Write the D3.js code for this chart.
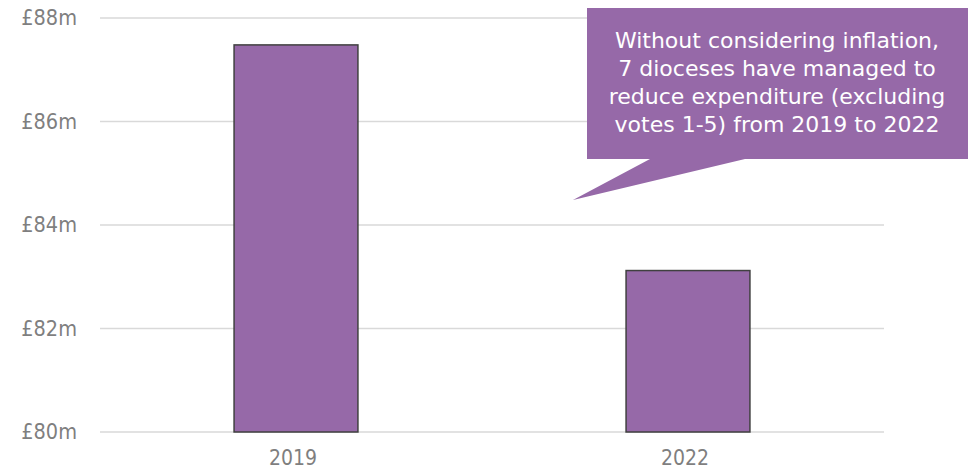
<!DOCTYPE html>
<html>
<head>
<meta charset="utf-8">
<script src="https://cdn.jsdelivr.net/npm/d3@7"></script>
<style>
  body { margin: 0; background: #fff; }
  svg text { font-family: "DejaVu Sans", sans-serif; }
  .axis text { font-family: "Liberation Sans Narrow", "DejaVu Sans Condensed", sans-serif; }
</style>
</head>
<body>
<div id="chart"></div>
<script>
// data
var years = ["2019", "2022"];
var spend = [87.48, 83.12];
var yTicks = [80, 82, 84, 86, 88];
var note = ["Without considering inflation,",
            "7 dioceses have managed to",
            "reduce expenditure (excluding",
            "votes 1-5) from 2019 to 2022"];

var W = 968, H = 474;
var margin = {top: 18, right: 84, bottom: 42, left: 100},
    width = W - margin.left - margin.right,
    height = H - margin.top - margin.bottom;

var svg = d3.select("#chart").append("svg")
    .attr("width", W)
    .attr("height", H);

var g = svg.append("g")
    .attr("transform", "translate(" + margin.left + "," + margin.top + ")");

var x = d3.scaleBand()
    .domain(years)
    .range([0, width])
    .paddingInner(0.684)
    .paddingOuter(0.342);

var y = d3.scaleLinear()
    .domain([80, 88])
    .range([height, 0]);

// gridlines
g.selectAll(".grid")
  .data(yTicks)
  .enter()
  .append("line")
  .attr("x1", 0)
  .attr("x2", width)
  .attr("y1", function(d) { return y(d); })
  .attr("y2", function(d) { return y(d); })
  .attr("stroke", "#d9d9d9")
  .attr("stroke-width", 1.5);

// y axis labels
var yAxis = d3.axisLeft(y)
    .tickValues(yTicks)
    .tickSize(0)
    .tickPadding(23)
    .tickFormat(function(d) { return "£" + d + "m"; });

g.append("g")
  .attr("class", "axis")
  .call(yAxis)
  .call(function(s) { s.select(".domain").remove(); })
  .selectAll("text")
  .attr("fill", "#7f7f7f")
  .style("font-size", "21.5px");

// bars
g.selectAll(".bar")
  .data(spend)
  .enter()
  .append("rect")
  .attr("x", function(d, i) { return x(years[i]); })
  .attr("y", function(d) { return y(d); })
  .attr("width", x.bandwidth())
  .attr("height", function(d) { return height - y(d); })
  .attr("fill", "#9669a8")
  .attr("stroke", "#404040")
  .attr("stroke-width", 1.5);

// x axis labels
var xAxis = d3.axisBottom(x).tickSize(0).tickPadding(18);
g.append("g")
  .attr("class", "axis")
  .attr("transform", "translate(0," + height + ")")
  .call(xAxis)
  .call(function(s) { s.select(".domain").remove(); })
  .selectAll("text")
  .attr("fill", "#7f7f7f")
  .attr("dx", "-3")
  .style("font-size", "21px");

// callout
var box = {x0: 587, x1: 968, y0: 8, y1: 159};
svg.append("path")
  .attr("d", "M" + box.x0 + "," + box.y0 + "H" + box.x1 + "V" + box.y1 +
        "H745L573,200L650," + box.y1 + "H" + box.x0 + "Z")
  .attr("fill", "#9669a8");

svg.append("text")
  .attr("text-anchor", "middle")
  .attr("fill", "#fff")
  .style("font-size", "22px")
  .selectAll("tspan")
  .data(note)
  .enter()
  .append("tspan")
  .attr("x", 777)
  .attr("y", function(d, i) { return 48 + i * 28.1; })
  .text(function(d) { return d; });
</script>
</body>
</html>
